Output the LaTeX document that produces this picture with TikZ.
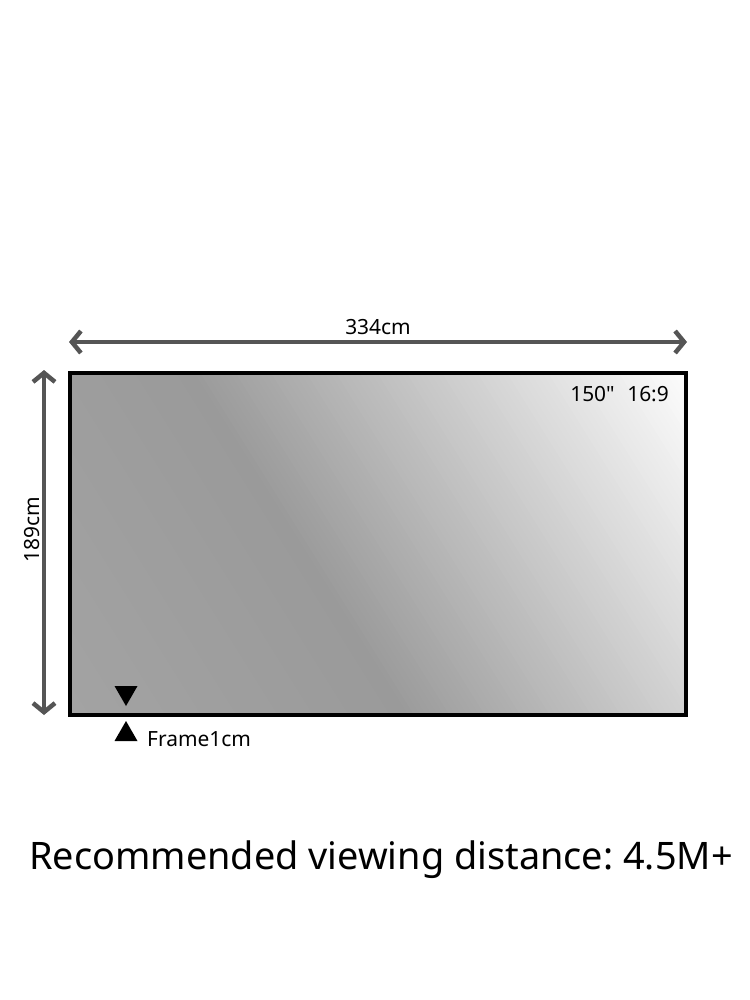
\documentclass[tikz,border=0pt]{standalone}
\usepackage{fontspec}
\setmainfont{Noto Sans}
\frenchspacing
\usetikzlibrary{arrows.meta}
\definecolor{arrgray}{RGB}{85,85,85}
\tikzset{
  dimarrow/.style={draw=arrgray, line width=4.5bp, {Straight Barb[length=9bp,width=22bp,line width=4.5bp]}-{Straight Barb[length=9bp,width=22bp,line width=4.5bp]}},
  lbl/.style={font=\fontsize{21}{24}\selectfont, inner sep=0pt},
  tri/.style={fill=black, draw=none}
}
\begin{document}
\begin{tikzpicture}[x=1bp,y=-1bp]
\useasboundingbox (0,0) rectangle (750,1000);
% screen gradient (bands perpendicular to direction 32 deg)
\begin{scope}
  \clip (68,371) rectangle (684,713);
  \foreach \p in {40,45,...,800}{
    \pgfmathsetmacro{\g}{(\p<339) ? (154+(339-\p)*0.032) : min(251,154+0.234*(\p-339))}
    \pgfmathsetmacro{\gg}{\g/255}
    \definecolor{cur}{gray}{\gg}
    \fill[cur]
      ({0.848*\p+0.53*700},{713-0.53*\p+0.848*700}) --
      ({0.848*\p-0.53*700},{713-0.53*\p-0.848*700}) --
      ({0.848*(\p+6)-0.53*700},{713-0.53*(\p+6)-0.848*700}) --
      ({0.848*(\p+6)+0.53*700},{713-0.53*(\p+6)+0.848*700}) -- cycle;
  }
\end{scope}
\node[draw=black, line width=4bp, minimum width=616bp, minimum height=342bp, inner sep=0pt, anchor=north west] (screen) at (68,371) {};
% dimension arrows
\coordinate (hl) at (69,342);
\coordinate (hr) at (687,342);
\draw[dimarrow] (hl) -- (hr);
\node[lbl] (w) at (378,327) {334cm};
\coordinate (vt) at (44,370);
\coordinate (vb) at (44,715);
\draw[dimarrow] (vt) -- (vb);
\node[lbl, rotate=90] (h) at (32,530) {189cm};
% label
\node[lbl, anchor=east] (size) at (669,394) {150\textquotedbl\hspace{0.6em}16:9};
% frame markers
\fill[tri] (114.5,686) -- (137.5,686) -- (126,706) -- cycle;
\fill[tri] (114.5,741) -- (137.5,741) -- (126,721) -- cycle;
\node[lbl, anchor=west] (frame) at (147,739) {Frame1cm};
% bottom text
\node[font=\fontsize{38}{42}\selectfont, inner sep=0pt] (rec) at (381,860) {Recommended viewing distance: 4.5M+};
\end{tikzpicture}
\end{document}
